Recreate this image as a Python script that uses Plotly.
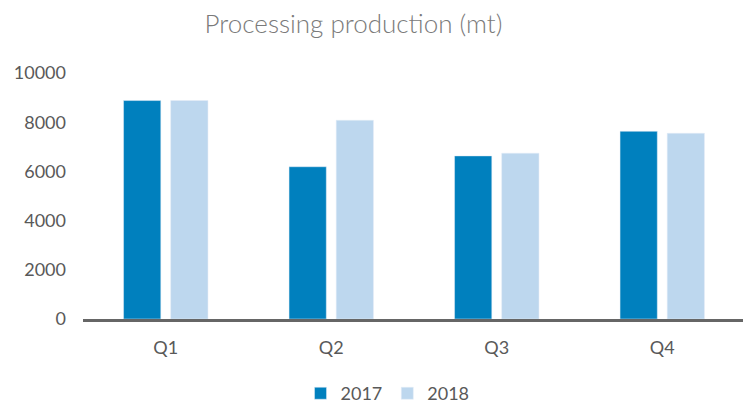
import plotly.graph_objects as go

quarters = ["Q1", "Q2", "Q3", "Q4"]
prod_2017 = [8880, 6190, 6630, 7630]
prod_2018 = [8880, 8080, 6740, 7550]

fig = go.Figure()

fig.add_trace(go.Bar(
    x=quarters,
    y=prod_2017,
    name="2017",
    marker=dict(color="#0080BE"),
))
fig.add_trace(go.Bar(
    x=quarters,
    y=prod_2018,
    name="2018",
    marker=dict(color="#BDD7EE"),
))

# page body adds ~8px offset, so size the figure a bit smaller
fig.update_layout(
    width=743,
    height=395,
    margin=dict(l=75, r=6, t=65, b=84, autoexpand=False),
    paper_bgcolor="white",
    plot_bgcolor="white",
    font=dict(family="Lato, Open Sans, sans-serif", color="#595959", size=18),
    title=dict(
        text="Processing production (mt)",
        x=0.465,
        xanchor="center",
        y=0.96,
        yanchor="middle",
        font=dict(size=26, color="#7a7a7a", weight=300),
    ),
    barmode="group",
    bargap=0.43,
    bargroupgap=0.21,
    showlegend=True,
    legend=dict(
        orientation="h",
        x=0.46,
        xanchor="center",
        y=-0.303,
        yanchor="middle",
        font=dict(size=18),
        itemwidth=30,
        tracegroupgap=0,
        traceorder="normal",
    ),
    xaxis=dict(
        showline=True,
        linecolor="#666666",
        linewidth=3,
        showgrid=False,
        ticks="",
        ticklabelstandoff=10,
        automargin=False,
    ),
    yaxis=dict(
        range=[0, 10000],
        dtick=2000,
        tickformat="d",
        showgrid=False,
        showline=False,
        zeroline=False,
        ticks="",
        ticklabelstandoff=16,
        automargin=False,
    ),
)

fig.write_html("out.html")
